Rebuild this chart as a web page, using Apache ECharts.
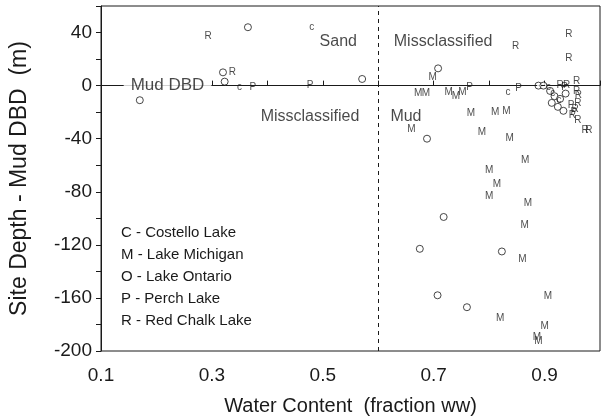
<!DOCTYPE html>
<html>
<head>
<meta charset="utf-8">
<script src="https://cdn.jsdelivr.net/npm/echarts@6/dist/echarts.min.js"></script>
<style>
  html, body { margin: 0; padding: 0; background: #fff; }
  #chart { width: 607px; height: 416px; }
</style>
</head>
<body>
<div id="chart"></div>
<script>
// [water content, site depth - mud DBD]
const costello = [[0.35, -1], [0.48, 44], [0.834, -5], [0.907, -1], [0.915, -6], [0.926, -11]]
const michigan = [
  [0.698, 6], [0.672, -6], [0.686, -6], [0.727, -5], [0.740, -8], [0.752, -5],
  [0.767, -21], [0.811, -20], [0.831, -19], [0.66, -33], [0.787, -35], [0.837, -40],
  [0.865, -56], [0.80, -64], [0.814, -74], [0.80, -83], [0.87, -89], [0.864, -105],
  [0.86, -131], [0.906, -159], [0.82, -175], [0.90, -181], [0.886, -190], [0.889, -193]
]
const ontario = [
  [0.365, 44], [0.32, 10], [0.323, 3], [0.17, -11], [0.571, 5], [0.708, 13],
  [0.688, -40], [0.718, -99], [0.675, -123], [0.823, -125], [0.707, -158], [0.76, -167],
  [0.889, 0], [0.898, 0], [0.910, -4], [0.918, -8], [0.913, -13], [0.928, -10],
  [0.924, -16], [0.934, -19], [0.938, -6]
]
const perch = [[0.374, -1], [0.477, 0], [0.765, -1], [0.853, -2], [0.936, -1], [0.948, -15], [0.953, -20]]
const redChalk = [
  [0.293, 37], [0.337, 10], [0.848, 30], [0.944, 39], [0.944, 21], [0.928, 0],
  [0.940, 0], [0.958, 3], [0.958, -4], [0.961, -7], [0.96, -13], [0.955, -18],
  [0.95, -22], [0.96, -26], [0.973, -34], [0.98, -34]
]
const notes = [
  [0.528, 33, 'Sand'],
  [0.717, 33, 'Missclassified'],
  [0.477, -23, 'Missclassified'],
  [0.65, -23, 'Mud']
]
const mudDbd = [[0.22, 0, 'Mud DBD']]
const legendLines = [
  'C - Costello Lake',
  'M - Lake Michigan',
  'O - Lake Ontario',
  'P - Perch Lake',
  'R - Red Chalk Lake'
]

const FONT = '"Liberation Sans", Arial, Helvetica, sans-serif'
const INK = '#1a1a1a'

function letterSeries(name, letter, data) {
  return {
    name: name,
    type: 'scatter',
    data: data,
    symbol: 'circle',
    symbolSize: 1,
    itemStyle: { color: 'rgba(0,0,0,0)' },
    label: {
      show: true,
      position: 'inside',
      formatter: letter,
      fontFamily: FONT,
      fontSize: 10,
      color: INK
    },
    silent: true
  }
}

const chart = echarts.init(document.getElementById('chart'))
const option = {
  animation: false,
  backgroundColor: '#fff',
  textStyle: { fontFamily: FONT },
  grid: {
    left: 101,
    right: 7,
    top: 6,
    bottom: 65,
    outerBoundsMode: 'none',
    show: true,
    borderColor: INK,
    borderWidth: 1
  },
  xAxis: {
    type: 'value',
    min: 0.1,
    max: 1.0,
    interval: 0.1,
    name: 'Water Content  (fraction ww)',
    nameLocation: 'middle',
    nameGap: 45,
    nameTextStyle: { fontSize: 20, color: INK, fontFamily: FONT },
    axisLine: { lineStyle: { color: INK, width: 1 } },
    axisTick: { inside: true, length: 5, lineStyle: { color: INK } },
    axisLabel: {
      fontSize: 19,
      color: INK,
      margin: 15,
      formatter: function (v) {
        const k = Math.round(v * 10)
        return k % 2 === 1 ? (k / 10).toFixed(1) : ''
      }
    },
    splitLine: { show: false }
  },
  yAxis: {
    type: 'value',
    min: -200,
    max: 60,
    interval: 20,
    name: 'Site Depth - Mud DBD  (m)',
    nameLocation: 'middle',
    nameGap: 70,
    nameTextStyle: { fontSize: 23, color: INK, fontFamily: FONT },
    axisLine: { lineStyle: { color: INK, width: 1 } },
    axisTick: { inside: false, length: 5, lineStyle: { color: INK } },
    axisLabel: {
      fontSize: 19,
      color: INK,
      margin: 9,
      formatter: function (v) {
        return v % 40 === 0 ? String(v) : ''
      }
    },
    splitLine: { show: false }
  },
  series: [
    {
      name: 'guides',
      type: 'scatter',
      data: [],
      markLine: {
        silent: true,
        symbol: 'none',
        label: { show: false },
        lineStyle: { color: INK, type: [4, 4], width: 1 },
        data: [{ yAxis: 0 }, { xAxis: 0.6 }]
      }
    },
    {
      name: 'mudDbd',
      type: 'scatter',
      data: mudDbd,
      symbolSize: 1,
      itemStyle: { color: 'rgba(0,0,0,0)' },
      z: 5,
      label: {
        show: true,
        position: 'inside',
        formatter: function (p) { return p.data[2] },
        fontSize: 17,
        color: INK,
        backgroundColor: '#fff',
        padding: [1, 7]
      }
    },
    {
      name: 'notes',
      type: 'scatter',
      data: notes,
      symbolSize: 1,
      itemStyle: { color: 'rgba(0,0,0,0)' },
      label: {
        show: true,
        position: 'inside',
        formatter: function (p) { return p.data[2] },
        fontSize: 16,
        color: INK
      }
    },
    letterSeries('Costello Lake', 'c', costello),
    letterSeries('Lake Michigan', 'M', michigan),
    {
      name: 'Lake Ontario',
      type: 'scatter',
      data: ontario,
      symbol: 'circle',
      symbolSize: 7,
      itemStyle: { color: '#fff', borderColor: INK, borderWidth: 1 }
    },
    letterSeries('Perch Lake', 'P', perch),
    letterSeries('Red Chalk Lake', 'R', redChalk)
  ],
  graphic: [
    {
      type: 'text',
      left: 121,
      top: 222,
      style: {
        text: legendLines.join('\n'),
        fontSize: 15,
        lineHeight: 22,
        fill: INK,
        fontFamily: FONT
      }
    }
  ]
}
chart.setOption(option)
window.addEventListener('resize', function () {
  chart.resize()
})
</script>
</body>
</html>
